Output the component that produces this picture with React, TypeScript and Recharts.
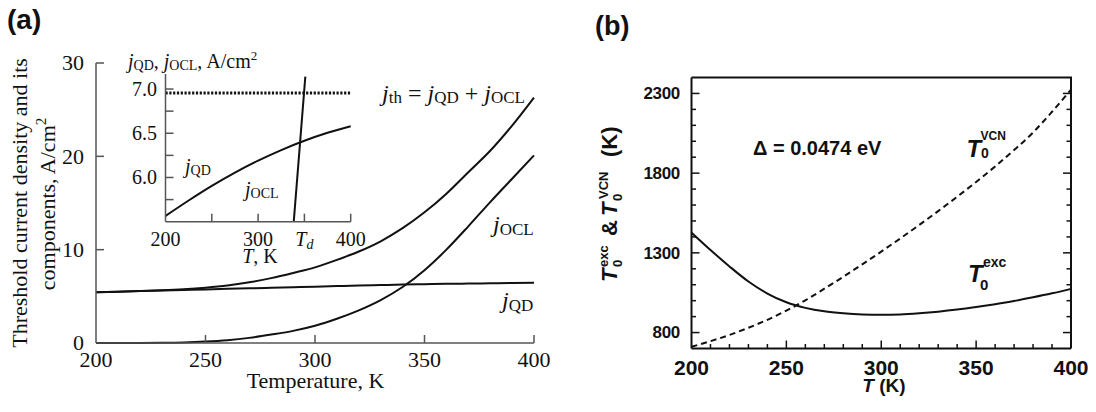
import React from 'react';
import { LineChart, Line, XAxis, YAxis, ReferenceLine } from 'recharts';

const serif = '"Liberation Serif", "Times New Roman", serif';
const sans = '"Liberation Sans", Arial, Helvetica, sans-serif';
const ink = '#111';
const axisGray = '#555';

// (a) main panel: temperature (K) vs threshold current density (A/cm^2)
const temps = [200, 210, 220, 230, 240, 250, 260, 270, 280, 290, 300, 310, 320, 330, 340, 350, 360, 370, 380, 390, 400];
const jQD = [5.45, 5.5, 5.56, 5.62, 5.68, 5.74, 5.8, 5.86, 5.92, 5.98, 6.04, 6.1, 6.16, 6.21, 6.26, 6.3, 6.34, 6.37, 6.4, 6.43, 6.45];
const jOCL = [0, 0, 0, 0.02, 0.06, 0.15, 0.3, 0.55, 0.9, 1.3, 1.85, 2.6, 3.5, 4.6, 6.0, 7.8, 10.0, 12.5, 15.1, 17.6, 20.1];
const jTh = [5.45, 5.5, 5.57, 5.65, 5.76, 5.92, 6.15, 6.5, 6.95, 7.5, 8.1, 8.9, 9.8, 10.9, 12.3, 14.0, 16.0, 18.3, 20.6, 23.3, 26.3];
const mainXTicks = [200, 250, 300, 350, 400];
const mainYTicks = [0, 10, 20, 30];

// (a) inset
const insetTemps = [200, 225, 250, 275, 300, 325, 350, 375, 400];
const insetJqd = [5.565, 5.74, 5.905, 6.055, 6.19, 6.31, 6.415, 6.505, 6.58];
const insetOclTemps = [338.5, 351];
const insetJocl = [5.5, 7.14];
const insetLevel = 6.955;
const insetXTicks = [200, 250, 300, 350, 400];
const insetYTicks = [5.75, 6, 6.25, 6.5, 6.75, 7];
const insetYLabels = [6, 6.5, 7];

// (b) T0 curves
const bTemps = [200, 210, 220, 230, 240, 250, 260, 270, 280, 290, 300, 310, 320, 330, 340, 350, 360, 370, 380, 390, 400];
const t0Exc = [1427, 1318, 1215, 1120, 1045, 990, 955, 933, 921, 914, 912, 914, 921, 931, 944, 960, 978, 998, 1021, 1046, 1074];
const t0Vcn = [711, 746, 785, 830, 880, 938, 1002, 1075, 1150, 1228, 1308, 1390, 1475, 1562, 1652, 1745, 1842, 1945, 2055, 2185, 2324];
const bXTicks = [200, 210, 220, 230, 240, 250, 260, 270, 280, 290, 300, 310, 320, 330, 340, 350, 360, 370, 380, 390, 400];
const bXLabels = [200, 250, 300, 350, 400];
const bXMajors = [250, 300, 350];
const bYTicks = [800, 900, 1000, 1100, 1200, 1300, 1400, 1500, 1600, 1700, 1800, 1900, 2000, 2100, 2200, 2300];
const bYLabels = [800, 1300, 1800, 2300];

const mainRows = temps.map((T, i) => ({ T, jQD: jQD[i], jOCL: jOCL[i], jTh: jTh[i] }));
const insetQdRows = insetTemps.map((T, i) => ({ T, v: insetJqd[i] }));
const insetOclRows = insetOclTemps.map((T, i) => ({ T, v: insetJocl[i] }));
const bRows = bTemps.map((T, i) => ({ T, exc: t0Exc[i], vcn: t0Vcn[i] }));

// plot frames (page pixels) and domains, shared by the charts and the tick overlay
const frameA = { left: 96, right: 534, top: 63, bottom: 343, x: [200, 400], y: [0, 30] };
const frameI = { left: 165.5, right: 350.7, top: 74, bottom: 221.7, x: [200, 400], y: [5.5, 7.17] };
const frameB = { left: 691.5, right: 1071, top: 77.5, bottom: 348.5, x: [200, 400], y: [700, 2400] };

type Frame = typeof frameA;
const px = (f: Frame, v: number) => f.left + ((v - f.x[0]) / (f.x[1] - f.x[0])) * (f.right - f.left);
const py = (f: Frame, v: number) => f.bottom - ((v - f.y[0]) / (f.y[1] - f.y[0])) * (f.bottom - f.top);

const leftLabel = (o: { label: (v: number) => React.ReactNode; font: string; size: number; weight?: number; spacing?: number }) =>
  (p: any) => (
    <text x={p.x} y={p.y} dy="0.34em" textAnchor="end" fontFamily={o.font} fontSize={o.size}
      fontWeight={o.weight ?? 400} letterSpacing={o.spacing ?? 0} fill={ink}>{o.label(p.payload.value)}</text>
  );

const bottomLabel = (o: { label: (v: number) => React.ReactNode; font: string; size: number; weight?: number }) =>
  (p: any) => (
    <text x={p.x} y={p.y} dy="0.34em" textAnchor="middle" fontFamily={o.font} fontSize={o.size}
      fontWeight={o.weight ?? 400} fill={ink}>{o.label(p.payload.value)}</text>
  );

const mainXLabel = bottomLabel({ label: (v) => v, font: serif, size: 22 });
const mainYLabel = leftLabel({ label: (v) => v, font: serif, size: 22 });
const insetXLabel = bottomLabel({
  label: (v) =>
    v === 350 ? (
      <>
        <tspan fontStyle="italic">T</tspan>
        <tspan fontStyle="italic" fontSize={14} dy={3}>d</tspan>
      </>
    ) : v === 250 ? '' : v,
  font: serif, size: 20,
});
const insetYLabel = leftLabel({ label: (v) => (insetYLabels.includes(v) ? v.toFixed(1) : ''), font: serif, size: 20 });
const bXLabel = bottomLabel({ label: (v) => (bXLabels.includes(v) ? v : ''), font: sans, size: 21, weight: 700 });
const bYLabel = leftLabel({ label: (v) => (bYLabels.includes(v) ? v : ''), font: sans, size: 17, weight: 700, spacing: -0.3 });

const mainAxis = { stroke: axisGray, strokeWidth: 1.5 };
const boxAxis = { stroke: ink, strokeWidth: 2 };

type Seg = { x1: number; y1: number; x2: number; y2: number; c: string; w: number };

// inward tick marks on each frame, placed with the frame's linear mapping
const tickSegs = (): Seg[] => {
  const s: Seg[] = [];
  mainXTicks.filter((v) => v > 200).forEach((v) => {
    const x = px(frameA, v);
    s.push({ x1: x, y1: frameA.bottom, x2: x, y2: frameA.bottom - 8, c: axisGray, w: 1.5 });
  });
  mainYTicks.filter((v) => v > 0).forEach((v) => {
    const y = py(frameA, v);
    s.push({ x1: frameA.left, y1: y, x2: frameA.left + 8, y2: y, c: axisGray, w: 1.5 });
  });
  insetXTicks.filter((v) => v > 200).forEach((v) => {
    const x = px(frameI, v);
    s.push({ x1: x, y1: frameI.bottom, x2: x, y2: frameI.bottom - 8, c: axisGray, w: 1.5 });
  });
  insetYTicks.forEach((v) => {
    const y = py(frameI, v);
    s.push({ x1: frameI.left, y1: y, x2: frameI.left + 8, y2: y, c: axisGray, w: 1.5 });
  });
  bXTicks.filter((v) => v > 200 && v < 400).forEach((v) => {
    const x = px(frameB, v);
    const L = bXMajors.includes(v) ? 8 : 4.5;
    s.push({ x1: x, y1: frameB.bottom, x2: x, y2: frameB.bottom - L, c: ink, w: 1.5 });
  });
  bYTicks.forEach((v) => {
    const y = py(frameB, v);
    const L = bYLabels.includes(v) ? 8 : 4.5;
    s.push({ x1: frameB.left, y1: y, x2: frameB.left + L, y2: y, c: ink, w: 1.5 });
    s.push({ x1: frameB.right, y1: y, x2: frameB.right - L, y2: y, c: ink, w: 1.5 });
  });
  // top and right sides of the (b) frame
  s.push({ x1: frameB.left, y1: frameB.top, x2: frameB.right + 1, y2: frameB.top, c: ink, w: 2 });
  s.push({ x1: frameB.right, y1: frameB.top, x2: frameB.right, y2: frameB.bottom, c: ink, w: 2 });
  return s;
};

const App = () => (
  <div style={{ position: 'absolute', left: 0, top: 0, width: 1096, height: 412, background: '#fff' }}>
    <div style={{ position: 'absolute', left: 0, top: 0 }}>
      <LineChart width={560} height={412} data={mainRows} margin={{ top: 63, right: 26, bottom: 39, left: 56 }}>
        <XAxis dataKey="T" type="number" domain={frameA.x} ticks={mainXTicks} interval={0} height={30}
          tickSize={0} tickLine={false} tickMargin={17} axisLine={mainAxis} tick={mainXLabel} />
        <YAxis type="number" domain={frameA.y} ticks={mainYTicks} interval={0} width={40}
          tickSize={0} tickLine={false} tickMargin={12} axisLine={mainAxis} tick={mainYLabel} />
        <Line type="monotone" dataKey="jTh" stroke={ink} strokeWidth={2} dot={false} activeDot={false} isAnimationActive={false} />
        <Line type="monotone" dataKey="jOCL" stroke={ink} strokeWidth={2} dot={false} activeDot={false} isAnimationActive={false} />
        <Line type="monotone" dataKey="jQD" stroke={ink} strokeWidth={2} dot={false} activeDot={false} isAnimationActive={false} />
      </LineChart>
    </div>

    <div style={{ position: 'absolute', left: 100, top: 40 }}>
      <LineChart width={270} height={230} margin={{ top: 34, right: 19.3, bottom: 18.3, left: 25.5 }}>
        <XAxis dataKey="T" type="number" domain={frameI.x} ticks={insetXTicks} interval={0} height={30}
          tickSize={0} tickLine={false} tickMargin={17.5} axisLine={mainAxis} tick={insetXLabel} />
        <YAxis type="number" domain={frameI.y} ticks={insetYTicks} interval={0} width={40}
          tickSize={0} tickLine={false} tickMargin={8.5} axisLine={mainAxis} tick={insetYLabel} />
        <ReferenceLine y={insetLevel} stroke={ink} strokeWidth={3} strokeDasharray="2.2 1.6" />
        <Line data={insetQdRows} type="monotone" dataKey="v" stroke={ink} strokeWidth={2} dot={false} activeDot={false} isAnimationActive={false} />
        <Line data={insetOclRows} type="linear" dataKey="v" stroke={ink} strokeWidth={2} dot={false} activeDot={false} isAnimationActive={false} />
      </LineChart>
    </div>

    <div style={{ position: 'absolute', left: 560, top: 0 }}>
      <LineChart width={536} height={412} data={bRows} margin={{ top: 77.5, right: 25, bottom: 33.5, left: 81.5 }}>
        <XAxis dataKey="T" type="number" domain={frameB.x} ticks={bXTicks} interval={0} height={30}
          tickSize={0} tickLine={false} tickMargin={19.5} axisLine={boxAxis} tick={bXLabel} />
        <YAxis type="number" domain={frameB.y} ticks={bYTicks} interval={0} width={50}
          tickSize={0} tickLine={false} tickMargin={11.5} axisLine={boxAxis} tick={bYLabel} />
        <Line type="monotone" dataKey="exc" stroke={ink} strokeWidth={2} dot={false} activeDot={false} isAnimationActive={false} />
        <Line type="monotone" dataKey="vcn" stroke={ink} strokeWidth={2} strokeDasharray="6 4"
          dot={false} activeDot={false} isAnimationActive={false} />
      </LineChart>
    </div>

    <svg width={1096} height={412} viewBox="0 0 1096 412"
      style={{ position: 'absolute', left: 0, top: 0, pointerEvents: 'none', overflow: 'visible' }}>
      <g>
        {tickSegs().map((t, i) => (
          <line key={i} x1={t.x1} y1={t.y1} x2={t.x2} y2={t.y2} stroke={t.c} strokeWidth={t.w}
            style={{ stroke: t.c, strokeWidth: t.w }} />
        ))}
      </g>
      <g fill={ink} style={{ whiteSpace: 'pre' }}>
        {/* panel letters */}
        <text x={7} y={28.5} fontFamily={sans} fontWeight={700} fontSize={28}>(a)</text>
        <text x={595} y={35} fontFamily={sans} fontWeight={700} fontSize={27}>(b)</text>

        {/* (a) axis titles */}
        <g fontFamily={serif} fontSize={22}>
          <text transform="translate(26.5,203) rotate(-90)" textAnchor="middle">Threshold current density and its</text>
          <text transform="translate(55,204) rotate(-90)" textAnchor="middle">
            components, A/cm<tspan fontSize={15} dy={-9}>2</tspan>
          </text>
          <text x={315.5} y={388} textAnchor="middle">Temperature, K</text>
        </g>

        {/* (a) curve labels */}
        <g fontFamily={serif}>
          <text x={382} y={101} fontSize={24}>
            <tspan fontStyle="italic">j</tspan>
            <tspan fontSize={17} dy={2}>th</tspan>
            <tspan dy={-2}> = </tspan>
            <tspan fontStyle="italic">j</tspan>
            <tspan fontSize={17} dy={2}>QD</tspan>
            <tspan dy={-2}> + </tspan>
            <tspan fontStyle="italic">j</tspan>
            <tspan fontSize={17} dy={2}>OCL</tspan>
          </text>
          <text x={493} y={231.5} fontSize={24}>
            <tspan fontStyle="italic">j</tspan>
            <tspan fontSize={17} dy={3.5}>OCL</tspan>
          </text>
          <text x={502} y={308} fontSize={24}>
            <tspan fontStyle="italic">j</tspan>
            <tspan fontSize={17} dy={3}>QD</tspan>
          </text>

          {/* inset labels */}
          <text x={128} y={68} fontSize={20}>
            <tspan fontStyle="italic">j</tspan>
            <tspan fontSize={14} dy={2}>QD</tspan>
            <tspan dy={-2}>, </tspan>
            <tspan fontStyle="italic">j</tspan>
            <tspan fontSize={14} dy={2}>OCL</tspan>
            <tspan dy={-2}>, A/cm</tspan>
            <tspan fontSize={13} dy={-8}>2</tspan>
          </text>
          <text x={185} y={172.5} fontSize={20}>
            <tspan fontStyle="italic">j</tspan>
            <tspan fontSize={14} dy={2.5}>QD</tspan>
          </text>
          <text x={245} y={195.5} fontSize={20}>
            <tspan fontStyle="italic">j</tspan>
            <tspan fontSize={14} dy={2.7}>OCL</tspan>
          </text>
          <text x={260} y={263} fontSize={20} textAnchor="middle">
            <tspan fontStyle="italic">T</tspan>, K
          </text>
        </g>

        {/* (b) texts */}
        <g fontFamily={sans} fontWeight={700}>
          <g transform="translate(617,205) rotate(-90)">
            <text x={-77} y={0} fontSize={22} fontStyle="italic">T</text>
            <text x={-62} y={-9} fontSize={13}>exc</text>
            <text x={-62} y={5} fontSize={13}>0</text>
            <text x={-31} y={0} fontSize={22}>{'&'}</text>
            <text x={-11} y={0} fontSize={22} fontStyle="italic">T</text>
            <text x={6} y={-9} fontSize={13}>VCN</text>
            <text x={4} y={5} fontSize={13}>0</text>
            <text x={48} y={0} fontSize={22}>(K)</text>
          </g>
          <text x={884} y={392} fontSize={19} textAnchor="middle">
            <tspan fontStyle="italic">T</tspan> (K)
          </text>
          <text x={753} y={155} fontSize={20}>Δ = 0.0474 eV</text>

          <text x={966.5} y={156.5} fontSize={24} fontStyle="italic">T</text>
          <text x={980.5} y={140} fontSize={12}>VCN</text>
          <text x={981} y={158} fontSize={14}>0</text>

          <text x={968} y={281.5} fontSize={24} fontStyle="italic">T</text>
          <text x={983} y={266.5} fontSize={14}>exc</text>
          <text x={980} y={290} fontSize={15}>0</text>
        </g>
      </g>
    </svg>
  </div>
);

export default App;
